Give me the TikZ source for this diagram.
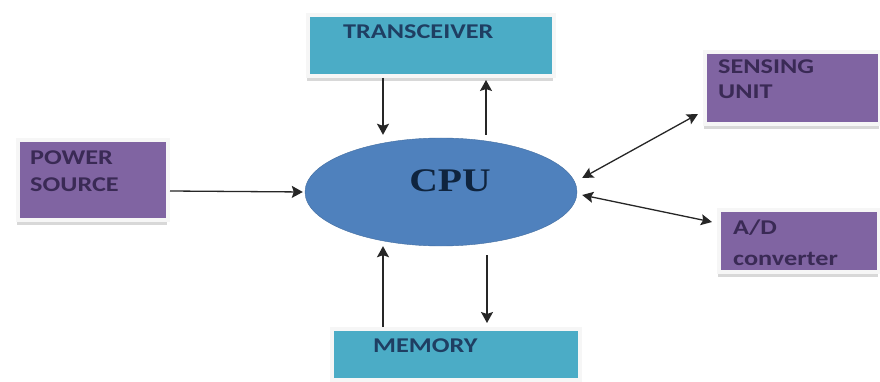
\documentclass[tikz,border=0pt]{standalone}
\usepackage{fontspec}
\setsansfont{Carlito}[FakeStretch=1.25]
\newfontfamily\cpufont{Liberation Serif}[FakeStretch=1.2]
\usetikzlibrary{shapes.geometric,arrows.meta,shadows,calc}
\definecolor{tealbox}{HTML}{4BACC6}
\definecolor{purplebox}{HTML}{8064A2}
\definecolor{cpublue}{HTML}{4F81BD}
\definecolor{navytext}{HTML}{1F3E62}
\definecolor{purptext}{HTML}{3A2A55}
\definecolor{cpudark}{HTML}{0F243E}
\begin{document}
\begin{tikzpicture}[x=1pt,y=-1pt,
  box/.style={anchor=north west, inner sep=0, draw=white!93!gray, line width=4pt,
    drop shadow={shadow xshift=-1pt, shadow yshift=-5pt, fill=black!30}},
  tealb/.style={box, fill=tealbox},
  purpb/.style={box, fill=purplebox},
  lab/.style={anchor=base west, inner sep=0, font=\sffamily\bfseries\fontsize{21}{26}\selectfont},
  tlab/.style={lab, text=navytext},
  plab/.style={lab, text=purptext},
  arr/.style={-{Stealth[length=11pt,width=12pt,inset=2pt]}, line width=1.3pt, draw=black!85},
  dbl/.style={{Stealth[length=11pt,width=11pt,inset=2pt]}-{Stealth[length=11pt,width=11pt,inset=2pt]}, line width=1.3pt, draw=black!85}
]
\useasboundingbox (0,0) rectangle (880,382);
\fill[white] (0,0) rectangle (880,382);

% boxes
\node[tealb, minimum width=246pt, minimum height=61pt] (trans) at (306,13) {};
\node[purpb, minimum width=150pt, minimum height=80pt] (power) at (16,138) {};
\node[purpb, minimum width=175pt, minimum height=72pt] (sens) at (703,50) {};
\node[purpb, minimum width=160pt, minimum height=62pt] (ad) at (717,208) {};
\node[tealb, minimum width=248pt, minimum height=51pt] (mem) at (330,327) {};
\node[ellipse, fill=cpublue, draw=cpublue!85!black, line width=0.4pt,
      minimum width=272pt, minimum height=108pt, inner sep=0] (cpu) at (441,192) {};

% labels
\node[tlab] (transL) at ($(trans.north west)+(37,26)$) {TRANSCEIVER};
\node[plab] (powerL1) at ($(power.north west)+(14,27)$) {POWER};
\node[plab] (powerL2) at ($(power.north west)+(14,53)$) {SOURCE};
\node[plab] (sensL1) at ($(sens.north west)+(15,24)$) {SENSING};
\node[plab] (sensL2) at ($(sens.north west)+(15,49)$) {UNIT};
\node[plab] (adL1) at ($(ad.north west)+(16,26)$) {A/D};
\node[plab] (adL2) at ($(ad.north west)+(16,57)$) {converter};
\node[tlab] (memL) at ($(mem.north west)+(43,25)$) {MEMORY};
\node[inner sep=0, text=cpudark, font=\cpufont\bfseries\fontsize{33}{33}\selectfont]
  (cpuL) at ($(cpu.center)+(9,-11)$) {CPU};

% connectors
\coordinate (t1) at ($(trans.south west)+(77,0)$);
\coordinate (t2) at ($(trans.south west)+(180,0)$);
\coordinate (m1) at ($(mem.north west)+(53,0)$);
\coordinate (m2) at ($(mem.north west)+(157,0)$);
\coordinate (pw) at ($(power.east)+(0,11)$);

\draw[arr, shorten >=3pt] (t1) -- (t1 |- cpu.north);
\draw[arr, shorten <=3pt, shorten >=2pt] (t2 |- cpu.north) -- (t2);
\draw[arr, shorten >=2pt] (pw) -- (cpu.west);
\draw[arr] (m1) -- (m1 |- cpu.south);
\draw[arr, shorten >=4pt] ($(m2 |- cpu.south)+(0,9)$) -- (m2);
\draw[dbl] ($(cpu.east)+(5,-14)$) -- ($(sens.south west)+(-5,-12)$);
\draw[dbl] ($(cpu.east)+(5,3)$) -- ($(ad.north west)+(-5,14)$);
\end{tikzpicture}
\end{document}
